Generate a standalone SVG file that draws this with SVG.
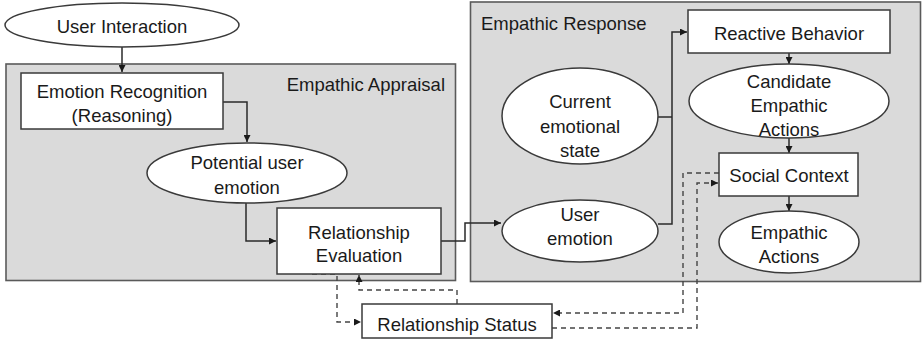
<svg xmlns="http://www.w3.org/2000/svg" width="922" height="342" viewBox="0 0 922 342">
<style>
  .panel { fill: #dadada; stroke: #5a5a5a; stroke-width: 1.6; }
  .node { fill: #ffffff; stroke: #3a3a3a; stroke-width: 1.5; }
  text { font-family: "Liberation Sans", Arial, sans-serif; font-size: 18.5px; fill: #1a1a1a; }
  .c { text-anchor: middle; }
  .conn { fill: none; stroke: #2a2a2a; stroke-width: 1.5; }
  .dash { fill: none; stroke: #444444; stroke-width: 1.4; stroke-dasharray: 5 4; }
</style>
<defs>
  <marker id="arr" viewBox="0 0 10 10" refX="10" refY="5" markerWidth="7" markerHeight="7" markerUnits="userSpaceOnUse" orient="auto">
    <path d="M0,0 L10,5 L0,10 z" fill="#1a1a1a"/>
  </marker>
</defs>

<g id="panel-appraisal">
  <rect class="panel" x="6" y="64" width="449.5" height="216.5"/>
  <text x="445" y="91" style="text-anchor:end">Empathic Appraisal</text>
</g>
<g id="panel-response">
  <rect class="panel" x="470.5" y="2" width="450" height="279.5"/>
  <text x="481" y="30">Empathic Response</text>
</g>

<g id="connectors">
  <path class="conn" d="M122,47 V72" marker-end="url(#arr)"/>
  <path class="conn" d="M223,102 H247 V142" marker-end="url(#arr)"/>
  <path class="conn" d="M246,203 V241 H276" marker-end="url(#arr)"/>
  <path class="conn" d="M441,241 H465 V223 H501" marker-end="url(#arr)"/>
  <path class="conn" d="M658,224 H672 V32 H687" marker-end="url(#arr)"/>
  <path class="conn" d="M658,117 H672"/>
  <path class="conn" d="M789,53 V64" marker-end="url(#arr)"/>
  <path class="conn" d="M789,138 V153" marker-end="url(#arr)"/>
  <path class="conn" d="M789,196 V211" marker-end="url(#arr)"/>
  <path class="dash" d="M312,274 H337 V322 H361" marker-end="url(#arr)"/>
  <path class="dash" d="M457,304 V290 H359 V275" marker-end="url(#arr)"/>
  <path class="dash" d="M719,173 H683 V313 H553" marker-end="url(#arr)"/>
  <path class="dash" d="M552,328 H697 V183 H718" marker-end="url(#arr)"/>
</g>

<g id="user-interaction">
  <ellipse class="node" cx="122" cy="25" rx="117" ry="22"/>
  <text class="c" x="122" y="33">User Interaction</text>
</g>
<g id="emotion-recognition">
  <rect class="node" x="21" y="73" width="202" height="56"/>
  <text class="c" x="122" y="98">Emotion Recognition</text>
  <text class="c" x="122" y="122">(Reasoning)</text>
</g>
<g id="potential-user-emotion">
  <ellipse class="node" cx="247" cy="173" rx="100" ry="30"/>
  <text class="c" x="247" y="169">Potential user</text>
  <text class="c" x="247" y="194">emotion</text>
</g>
<g id="relationship-evaluation">
  <rect class="node" x="277" y="208" width="164" height="66"/>
  <text class="c" x="359" y="239">Relationship</text>
  <text class="c" x="359" y="262">Evaluation</text>
</g>
<g id="relationship-status">
  <rect class="node" x="362" y="304" width="190" height="34"/>
  <text class="c" x="457" y="331">Relationship Status</text>
</g>
<g id="current-emotional-state">
  <ellipse class="node" cx="580" cy="116" rx="78" ry="48"/>
  <text class="c" x="580" y="108">Current</text>
  <text class="c" x="580" y="133">emotional</text>
  <text class="c" x="580" y="157">state</text>
</g>
<g id="user-emotion">
  <ellipse class="node" cx="580" cy="231" rx="78" ry="31"/>
  <text class="c" x="580" y="221">User</text>
  <text class="c" x="580" y="245">emotion</text>
</g>
<g id="reactive-behavior">
  <rect class="node" x="688" y="10" width="202" height="43"/>
  <text class="c" x="789" y="40">Reactive Behavior</text>
</g>
<g id="candidate-empathic-actions">
  <ellipse class="node" cx="789" cy="101" rx="100" ry="37"/>
  <text class="c" x="789" y="88">Candidate</text>
  <text class="c" x="789" y="112">Empathic</text>
  <text class="c" x="789" y="136">Actions</text>
</g>
<g id="social-context">
  <rect class="node" x="719" y="153" width="139" height="43"/>
  <text class="c" x="789" y="182">Social Context</text>
</g>
<g id="empathic-actions">
  <ellipse class="node" cx="789" cy="242" rx="70" ry="31"/>
  <text class="c" x="789" y="239">Empathic</text>
  <text class="c" x="789" y="263">Actions</text>
</g>
</svg>
